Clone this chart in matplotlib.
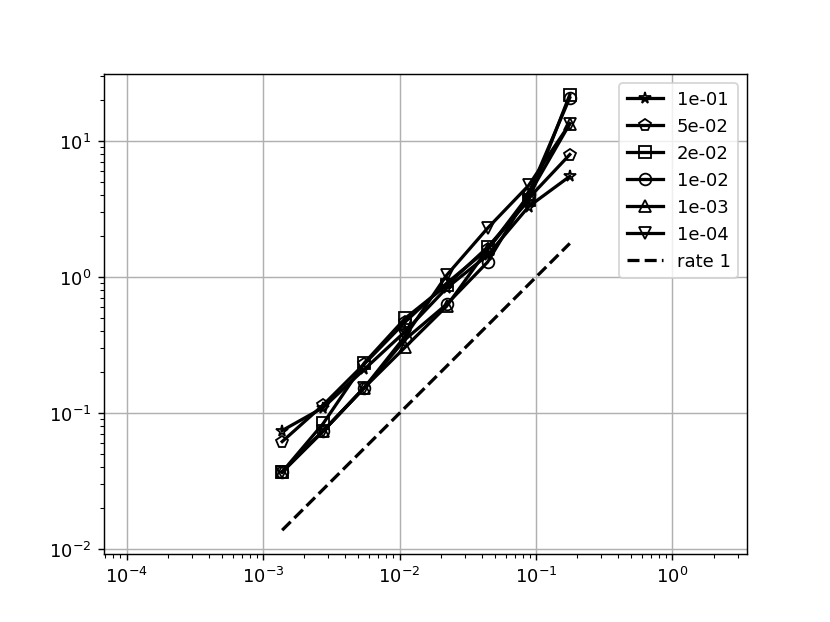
import numpy as np
import matplotlib.pyplot as plt

# mesh sizes h = sqrt(2) / 2^k, k = 3..10
h = np.array([0.00138, 0.00276, 0.00552, 0.01105, 0.0221, 0.0442, 0.0884, 0.1768])

labels = ['1e-01', '5e-02', '2e-02', '1e-02', '1e-03', '1e-04']
markers = ['*', 'p', 's', 'o', '^', 'v']

err_1e01 = [0.0745, 0.110, 0.210, 0.40, 0.83, 1.45, 3.30, 5.5]
err_5e02 = [0.0618, 0.115, 0.230, 0.47, 0.90, 1.60, 3.80, 7.95]
err_2e02 = [0.037, 0.084, 0.234, 0.50, 0.87, 1.66, 3.66, 21.9]
err_1e02 = [0.037, 0.074, 0.154, 0.35, 0.63, 1.29, 4.10, 20.8]
err_1e03 = [0.037, 0.074, 0.154, 0.307, 0.61, 1.60, 4.00, 13.4]
err_1e04 = [0.037, 0.074, 0.154, 0.37, 1.03, 2.29, 4.72, 13.4]
errors = [err_1e01, err_5e02, err_2e02, err_1e02, err_1e03, err_1e04]

rate_const = 10.0

fig, ax = plt.subplots(figsize=(6.4, 4.8), dpi=129.7)

for err, lab, m in zip(errors, labels, markers):
    ax.loglog(h, err, color='black', marker=m, mfc='none', mec='black',
              markersize=6.5, linewidth=1.8, label=lab)

ax.loglog(h, rate_const * h, 'k--', linewidth=1.8, label='rate 1')

ax.set_xlim(6.8e-5, 3.52)
ax.set_ylim(0.0093, 31)
ax.grid(True)
ax.legend(loc='upper right')

plt.savefig('out.png')
